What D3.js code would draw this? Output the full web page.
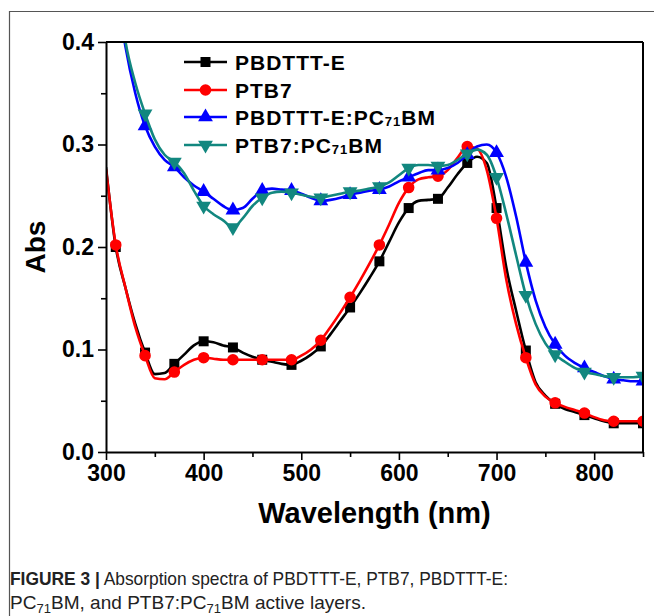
<!DOCTYPE html>
<html><head><meta charset="utf-8">
<script src="https://cdn.jsdelivr.net/npm/d3@7"></script>
<style>
html,body{margin:0;padding:0;background:#fff;}
svg{display:block;}
</style></head>
<body>
<svg id="chart" width="654" height="616"></svg>
<script>
const wavelengths = [300,310,320,330,340,350,360,370,380,390,400,410,420,430,440,450,460,470,480,490,500,510,520,530,540,550,560,570,580,590,600,610,620,630,640,650,660,670,680,690,700,710,720,730,740,750,760,770,780,790,800,810,820,830,840,850];
const pbdttt = [0.278,0.200,0.160,0.125,0.097,0.076,0.077,0.086,0.095,0.104,0.108,0.107,0.104,0.102,0.097,0.093,0.090,0.088,0.086,0.085,0.089,0.095,0.103,0.115,0.128,0.141,0.155,0.170,0.186,0.205,0.224,0.238,0.245,0.246,0.247,0.258,0.271,0.282,0.288,0.282,0.238,0.180,0.138,0.099,0.068,0.055,0.047,0.042,0.039,0.036,0.033,0.030,0.028,0.028,0.028,0.028];
const ptb7 = [0.276,0.202,0.160,0.122,0.094,0.072,0.071,0.078,0.085,0.090,0.092,0.091,0.090,0.090,0.090,0.090,0.090,0.090,0.090,0.090,0.094,0.100,0.109,0.122,0.136,0.151,0.167,0.184,0.202,0.222,0.243,0.258,0.266,0.268,0.269,0.275,0.287,0.298,0.296,0.275,0.228,0.168,0.125,0.092,0.066,0.054,0.048,0.044,0.041,0.038,0.034,0.031,0.030,0.030,0.030,0.030];
const pbdtttPC = [0.56,0.46,0.395,0.35,0.318,0.298,0.285,0.278,0.268,0.260,0.254,0.247,0.240,0.236,0.238,0.247,0.255,0.257,0.256,0.255,0.252,0.248,0.245,0.246,0.248,0.251,0.253,0.255,0.256,0.259,0.264,0.268,0.272,0.275,0.275,0.277,0.282,0.290,0.298,0.300,0.292,0.268,0.230,0.185,0.148,0.122,0.105,0.094,0.087,0.082,0.078,0.074,0.071,0.070,0.069,0.069];
const ptb7PC = [0.58,0.47,0.40,0.36,0.330,0.305,0.290,0.283,0.272,0.255,0.240,0.232,0.226,0.219,0.228,0.240,0.248,0.253,0.254,0.253,0.251,0.249,0.248,0.250,0.252,0.254,0.255,0.257,0.259,0.263,0.270,0.277,0.280,0.280,0.279,0.280,0.285,0.291,0.295,0.290,0.268,0.232,0.192,0.153,0.125,0.106,0.095,0.088,0.082,0.078,0.076,0.074,0.073,0.073,0.073,0.074];
const markerWavelengths = [310,340,370,400,430,460,490,520,550,580,610,640,670,700,730,760,790,820,850];
const xTicks = [300,400,500,600,700,800];
const xMinorTicks = [350,450,550,650,750,850];
const yTicks = [0.0,0.1,0.2,0.3,0.4];
const yMinorTicks = [0.05,0.15,0.25,0.35];
const seriesNames = ["PBDTTT-E","PTB7","PBDTTT-E:PC71BM","PTB7:PC71BM"];
const seriesColors = ["#000000","#ff0000","#0000ff","#12877f"];
const seriesShapes = ["square","circle","triangle","triangleDown"];
const seriesValues = [pbdttt, ptb7, pbdtttPC, ptb7PC];

const svg = d3.select("#chart");
const L = 106, R = 643, T = 42, B = 452;
const x = d3.scaleLinear().domain([300,850]).range([L,R]);
const y = d3.scaleLinear().domain([0,0.4]).range([B,T]);

// outer frame
svg.append("path").attr("d","M9.5,616 L9.5,11.5 L654,11.5").attr("fill","none").attr("stroke","#555").attr("stroke-width",1.2);

svg.append("defs").append("clipPath").attr("id","clip").append("rect")
  .attr("x",L).attr("y",T).attr("width",R-L).attr("height",B-T);

function symbolFor(shape){
  if(shape==="square") return d3.symbol().type(d3.symbolSquare).size(100)();
  if(shape==="circle") return d3.symbol().type(d3.symbolCircle).size(105)();
  return d3.symbol().type(d3.symbolTriangle).size(95)();
}

const line = d3.line().x(d=>x(d[0])).y(d=>y(d[1])).curve(d3.curveMonotoneX);
const plot = svg.append("g").attr("clip-path","url(#clip)");
seriesValues.forEach((vals,i)=>{
  const pts = wavelengths.map((w,j)=>[w,vals[j]]);
  plot.append("path").datum(pts).attr("d",line).attr("fill","none")
    .attr("stroke",seriesColors[i]).attr("stroke-width",2.6).attr("stroke-linejoin","round");
  const mk = pts.filter(p=>markerWavelengths.includes(p[0]));
  plot.selectAll(null).data(mk).enter().append("path")
    .attr("d",symbolFor(seriesShapes[i]))
    .attr("transform",d=>`translate(${x(d[0])},${y(d[1])})${seriesShapes[i]==="triangleDown"?" rotate(180)":""}`)
    .attr("fill",seriesColors[i]);
});

// axes
const ax = svg.append("g");
const bottom = ax.append("g").attr("transform",`translate(0,${B})`)
  .call(d3.axisBottom(x).tickValues(xTicks).tickSize(8).tickSizeOuter(0).tickFormat(d3.format("d")).tickPadding(5));
const bottomMinor = ax.append("g").attr("transform",`translate(0,${B})`)
  .call(d3.axisBottom(x).tickValues(xMinorTicks).tickSize(5).tickSizeOuter(0).tickFormat(""));
const left = ax.append("g").attr("transform",`translate(${L},0)`)
  .call(d3.axisLeft(y).tickValues(yTicks).tickSize(8).tickSizeOuter(0).tickFormat(d3.format(".1f")).tickPadding(4));
const leftMinor = ax.append("g").attr("transform",`translate(${L},0)`)
  .call(d3.axisLeft(y).tickValues(yMinorTicks).tickSize(5).tickSizeOuter(0).tickFormat(""));
[bottomMinor,leftMinor].forEach(g=>g.select(".domain").remove());
[bottom,left,bottomMinor,leftMinor].forEach(g=>{
  g.selectAll(".tick line").attr("stroke","#000").attr("stroke-width",1.6);
});
[bottom,left].forEach(g=>{
  g.select(".domain").attr("stroke","#000").attr("stroke-width",2);
  g.selectAll(".tick text").attr("font-family","'Liberation Sans',Arial,sans-serif")
    .attr("font-weight","bold").attr("font-size",23).attr("fill","#000");
});
// box top and right
svg.append("line").attr("x1",L).attr("x2",R).attr("y1",T).attr("y2",T).attr("stroke","#000").attr("stroke-width",2);
svg.append("line").attr("x1",R).attr("x2",R).attr("y1",T).attr("y2",B).attr("stroke","#000").attr("stroke-width",2);

// axis titles
svg.append("text").attr("x",(L+R)/2).attr("y",523).attr("text-anchor","middle")
  .attr("font-family","'Liberation Sans',Arial,sans-serif").attr("font-weight","bold").attr("font-size",29)
  .text("Wavelength (nm)");
svg.append("text").attr("transform",`translate(45,${(T+B)/2}) rotate(-90)`).attr("text-anchor","middle")
  .attr("font-family","'Liberation Sans',Arial,sans-serif").attr("font-weight","bold").attr("font-size",28)
  .text("Abs");

// legend
const legRows = [62,90,117,145];
seriesNames.forEach((name,i)=>{
  const g = svg.append("g");
  g.append("line").attr("x1",184).attr("x2",227).attr("y1",legRows[i]).attr("y2",legRows[i])
    .attr("stroke",seriesColors[i]).attr("stroke-width",2.6);
  g.append("path").attr("d",symbolFor(seriesShapes[i]))
    .attr("transform",`translate(205.5,${legRows[i]})${seriesShapes[i]==="triangleDown"?" rotate(180)":""}`)
    .attr("fill",seriesColors[i]);
  const t = g.append("text").attr("x",235).attr("y",legRows[i]+7.5)
    .attr("font-family","'Liberation Sans',Arial,sans-serif").attr("font-weight","bold").attr("font-size",21)
    .attr("letter-spacing",1).attr("fill","#000");
  const m = name.match(/^(.*PC)(71)(BM)$/);
  if(m){
    t.append("tspan").text(m[1]);
    t.append("tspan").attr("font-size",13).attr("dy",1).text(m[2]);
    t.append("tspan").attr("dy",-1).text(m[3]);
  } else t.text(name);
});

// caption
const capFont = "'Liberation Sans',Arial,sans-serif";
const cap1 = svg.append("text").attr("x",10).attr("y",585)
  .attr("font-family",capFont).attr("font-size",19).attr("fill","#222")
  .attr("textLength",498).attr("lengthAdjust","spacingAndGlyphs");
cap1.append("tspan").attr("font-weight","bold").text("FIGURE 3 |");
cap1.append("tspan").text(" Absorption spectra of PBDTTT-E, PTB7, PBDTTT-E:");
const cap2 = svg.append("text").attr("x",10).attr("y",609)
  .attr("font-family",capFont).attr("font-size",19).attr("fill","#222")
  .attr("textLength",356).attr("lengthAdjust","spacingAndGlyphs");
cap2.append("tspan").text("PC");
cap2.append("tspan").attr("font-size",13).attr("dy",4).text("71");
cap2.append("tspan").attr("dy",-4).text("BM, and PTB7:PC");
cap2.append("tspan").attr("font-size",13).attr("dy",4).text("71");
cap2.append("tspan").attr("dy",-4).text("BM active layers.");
</script>
</body></html>
